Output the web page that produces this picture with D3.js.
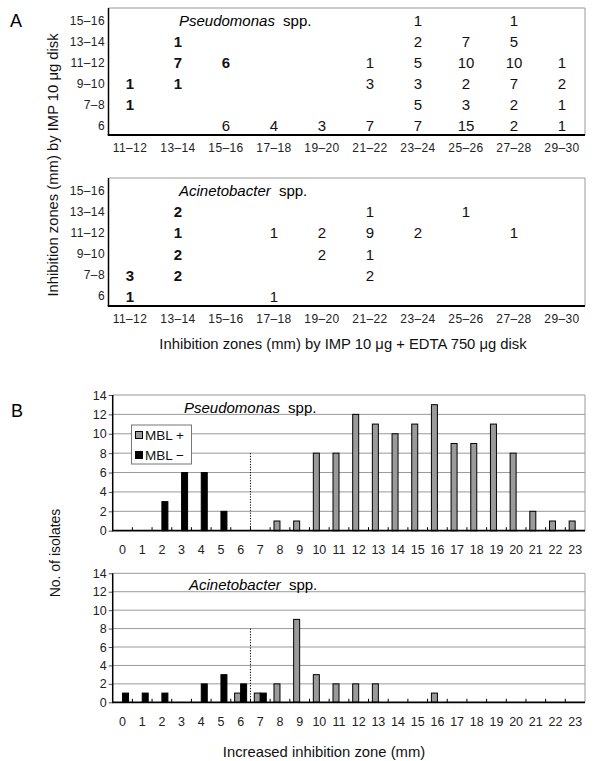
<!DOCTYPE html>
<html><head><meta charset="utf-8">
<script src="https://cdn.jsdelivr.net/npm/d3@7"></script>
<style>body{margin:0;background:#fff}svg{display:block}text{font-family:"Liberation Sans",Arial,sans-serif}</style>
</head><body>
<script>
// ---------- data ----------
const zoneCols = ["11-12","13-14","15-16","17-18","19-20","21-22","23-24","25-26","27-28","29-30"];
const zoneRows = ["15-16","13-14","11-12","9-10","7-8","6"]; // top to bottom
// cell matrices [row][col], rows as in zoneRows
const pseudoNegCells = [
  [0,0,0,0,0,0,0,0,0,0],
  [0,1,0,0,0,0,0,0,0,0],
  [0,7,6,0,0,0,0,0,0,0],
  [1,1,0,0,0,0,0,0,0,0],
  [1,0,0,0,0,0,0,0,0,0],
  [0,0,0,0,0,0,0,0,0,0]];
const pseudoPosCells = [
  [0,0,0,0,0,0,1,0,1,0],
  [0,0,0,0,0,0,2,7,5,0],
  [0,0,0,0,0,1,5,10,10,1],
  [0,0,0,0,0,3,3,2,7,2],
  [0,0,0,0,0,0,5,3,2,1],
  [0,0,6,4,3,7,7,15,2,1]];
const acinetoNegCells = [
  [0,0,0,0,0,0,0,0,0,0],
  [0,2,0,0,0,0,0,0,0,0],
  [0,1,0,0,0,0,0,0,0,0],
  [0,2,0,0,0,0,0,0,0,0],
  [3,2,0,0,0,0,0,0,0,0],
  [1,0,0,0,0,0,0,0,0,0]];
const acinetoPosCells = [
  [0,0,0,0,0,0,0,0,0,0],
  [0,0,0,0,0,1,0,1,0,0],
  [0,0,0,1,2,9,2,0,1,0],
  [0,0,0,0,2,1,0,0,0,0],
  [0,0,0,0,0,2,0,0,0,0],
  [0,0,0,1,0,0,0,0,0,0]];

const increase = d3.range(0,24);
const pseudoPos = [0,0,0,0,0,0,0,0,1,1,8,8,12,11,10,11,13,9,9,11,8,2,1,1];
const pseudoNeg = [0,0,3,6,6,2,0,0,0,0,0,0,0,0,0,0,0,0,0,0,0,0,0,0];
const acinetoPos = [0,0,0,0,0,0,1,1,2,9,3,2,2,2,0,0,1,0,0,0,0,0,0,0];
const acinetoNeg = [1,1,1,0,2,3,2,1,0,0,0,0,0,0,0,0,0,0,0,0,0,0,0,0];
const yTicksB = [0,2,4,6,8,10,12,14];
const cutoff = 8; // dotted cutoff line height, between 6 and 7

// ---------- drawing ----------
const W=593,H=761;
const svg=d3.select("body").append("svg").attr("width",W).attr("height",H);
const FS=12;

svg.append("text").attr("x",10).attr("y",27).attr("font-size",18).text("A");
svg.append("text").attr("x",11).attr("y",417).attr("font-size",18).text("B");

function gridPanel(top,bottom,neg,pos,genus){
  const L=108.5,R=585;
  const x=d3.scaleBand().domain(zoneCols).range([106,586]);
  const y=d3.scaleBand().domain(zoneRows).range([top+2,bottom+1]);
  const g=svg.append("g");
  g.append("line").attr("x1",L).attr("x2",R).attr("y1",top).attr("y2",top).attr("stroke","#999").attr("stroke-width",1);
  g.append("line").attr("x1",R).attr("x2",R).attr("y1",top).attr("y2",bottom).attr("stroke","#999").attr("stroke-width",1);
  g.append("line").attr("x1",L).attr("x2",L).attr("y1",top).attr("y2",bottom).attr("stroke","#000").attr("stroke-width",1.5);
  g.append("line").attr("x1",L-0.75).attr("x2",R).attr("y1",bottom).attr("y2",bottom).attr("stroke","#000").attr("stroke-width",1.8);
  // y labels
  g.selectAll(".yl").data(zoneRows).join("text").attr("x",105).attr("y",d=>y(d)+y.bandwidth()/2+4)
    .attr("text-anchor","end").attr("font-size",FS).attr("letter-spacing",0.4).attr("fill","#222").text(d=>d.replace("-","\u2013"));
  g.selectAll(".xl").data(zoneCols).join("text").attr("x",d=>x(d)+x.bandwidth()/2).attr("y",bottom+16.5)
    .attr("text-anchor","middle").attr("font-size",FS).attr("letter-spacing",0.4).attr("fill","#222").text(d=>d.replace("-","\u2013"));
  const cells=[];
  zoneRows.forEach((r,i)=>zoneCols.forEach((c,j)=>{
    if(neg[i][j]) cells.push({r,c,v:neg[i][j],b:true});
    if(pos[i][j]) cells.push({r,c,v:pos[i][j],b:false});
  }));
  g.selectAll(".cv").data(cells).join("text").attr("x",d=>x(d.c)+x.bandwidth()/2).attr("y",d=>y(d.r)+y.bandwidth()/2+5.5)
    .attr("text-anchor","middle").attr("font-size",15).attr("font-weight",d=>d.b?"bold":"normal").attr("fill","#111").text(d=>d.v);
  const t=g.append("text").attr("x",179).attr("y",top+17.5).attr("font-size",15);
  t.append("tspan").attr("font-style","italic").text(genus);
  t.append("tspan").attr("dx",4).text(" spp.");
}
gridPanel(8,135,pseudoNegCells,pseudoPosCells,"Pseudomonas");
gridPanel(178,306,acinetoNegCells,acinetoPosCells,"Acinetobacter");

svg.append("text").attr("x",343).attr("y",349).attr("text-anchor","middle").attr("font-size",14.8).attr("fill","#111")
  .text("Inhibition zones (mm) by IMP 10 \u03bcg + EDTA 750 \u03bcg disk");
svg.append("text").attr("transform","translate(58,165) rotate(-90)").attr("text-anchor","middle").attr("font-size",14.8).attr("fill","#111")
  .text("Inhibition zones (mm) by IMP 10 \u03bcg disk");

function barPanel(y0,y14,posV,negV,genus,titleX,legend){
  const L=112.7,R=585;
  const x=d3.scaleBand().domain(increase).range([L,R]);
  const y=d3.scaleLinear().domain([0,14]).range([y0,y14]);
  const g=svg.append("g");
  g.selectAll(".gr").data(yTicksB.filter(v=>v>0)).join("line").attr("x1",L).attr("x2",R).attr("y1",d=>y(d)).attr("y2",d=>y(d))
    .attr("stroke","#999").attr("stroke-width",1);
  g.append("line").attr("x1",R).attr("x2",R).attr("y1",y14).attr("y2",y0).attr("stroke","#999");
  // y axis
  const ya=g.append("g").attr("transform",`translate(${L},0)`).call(d3.axisLeft(y).tickValues(yTicksB).tickSize(4).tickPadding(2));
  ya.select(".domain").remove();
  ya.selectAll("line").attr("stroke","#555");
  ya.selectAll("text").attr("font-size",12.5).attr("fill","#222").attr("font-family","Liberation Sans, Arial, sans-serif");
  g.append("line").attr("x1",L).attr("x2",L).attr("y1",y14).attr("y2",y0).attr("stroke","#000").attr("stroke-width",1.5);
  // boundary ticks
  g.selectAll(".bt").data(increase.slice(1)).join("line").attr("x1",d=>x(d)).attr("x2",d=>x(d)).attr("y1",y0).attr("y2",y0-3.5)
    .attr("stroke","#000").attr("stroke-width",1);
  const bw=6;
  g.selectAll(".bp").data(increase.filter(i=>posV[i]>0)).join("rect")
    .attr("x",d=>x(d)+x.bandwidth()/2-bw).attr("width",bw).attr("y",d=>y(posV[d])).attr("height",d=>y(0)-y(posV[d]))
    .attr("fill","#9a9a9a").attr("stroke","#000").attr("stroke-width",1);
  g.selectAll(".bn").data(increase.filter(i=>negV[i]>0)).join("rect")
    .attr("x",d=>x(d)+x.bandwidth()/2).attr("width",bw).attr("y",d=>y(negV[d])).attr("height",d=>y(0)-y(negV[d]))
    .attr("fill","#000").attr("stroke","#000").attr("stroke-width",1);
  g.append("line").attr("x1",x(7)).attr("x2",x(7)).attr("y1",y(cutoff)).attr("y2",y0).attr("stroke","#000").attr("stroke-width",1).attr("stroke-dasharray","1.2,1.5");
  g.append("line").attr("x1",L-0.75).attr("x2",R).attr("y1",y0).attr("y2",y0).attr("stroke","#000").attr("stroke-width",1.8);
  g.selectAll(".xl").data(increase).join("text").attr("x",d=>x(d)+x.bandwidth()/2).attr("y",y0+23.5)
    .attr("text-anchor","middle").attr("font-size",12.5).attr("fill","#222").text(d=>d);
  const t=g.append("text").attr("x",titleX).attr("y",y(12)-1.5).attr("font-size",15);
  t.append("tspan").attr("font-style","italic").text(genus);
  t.append("tspan").attr("dx",4).text(" spp.");
  if(legend){
    const lg=g.append("g");
    lg.append("rect").attr("x",131.5).attr("y",425).attr("width",60).attr("height",39).attr("fill","#fff").attr("stroke","#777");
    const items=[{t:"MBL +",f:"#9a9a9a",yy:435},{t:"MBL \u2212",f:"#000",yy:455}];
    items.forEach(it=>{
      lg.append("rect").attr("x",135.5).attr("y",it.yy-3.5).attr("width",7).attr("height",7).attr("fill",it.f).attr("stroke","#000");
      lg.append("text").attr("x",145).attr("y",it.yy+5).attr("font-size",13.5).attr("fill","#111").text(it.t);
    });
  }
}
barPanel(530.7,395,pseudoPos,pseudoNeg,"Pseudomonas",184,true);
barPanel(702.3,573.3,acinetoPos,acinetoNeg,"Acinetobacter",189,false);

svg.append("text").attr("transform","translate(60,553) rotate(-90)").attr("text-anchor","middle").attr("font-size",14).attr("fill","#111")
  .text("No. of isolates");
svg.append("text").attr("x",324).attr("y",757).attr("text-anchor","middle").attr("font-size",14.8).attr("fill","#111")
  .text("Increased inhibition zone (mm)");
</script>
</body></html>
